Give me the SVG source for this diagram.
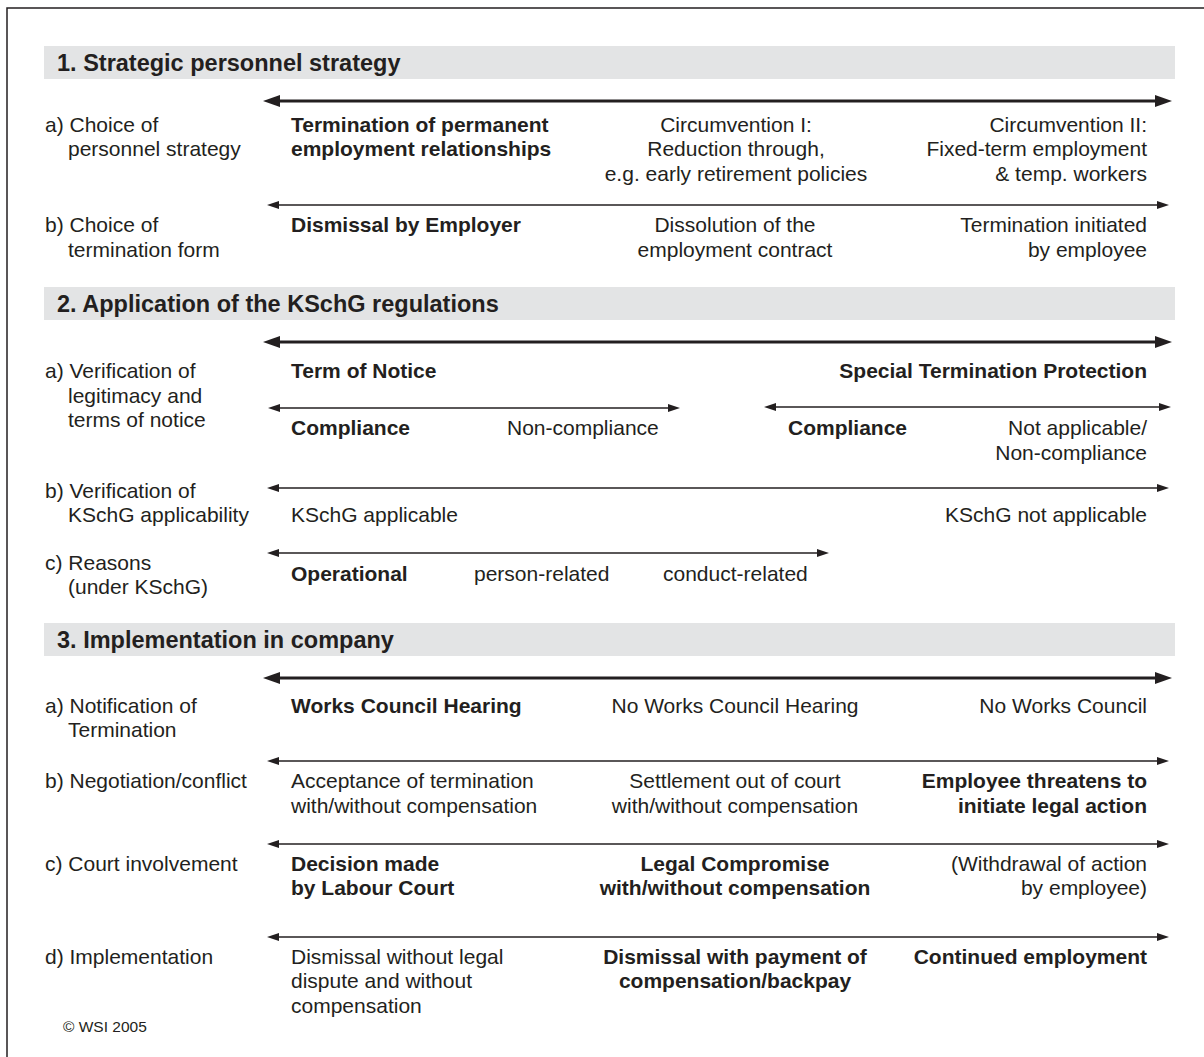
<svg xmlns="http://www.w3.org/2000/svg" width="1204" height="1057" viewBox="0 0 1204 1057">
<style>
text{font-family:"Liberation Sans",Arial,Helvetica,sans-serif;font-size:21px;fill:#231f20}
.h{font-size:23.5px;font-weight:bold}
.b{font-weight:bold}
.m{text-anchor:middle}
.r{text-anchor:end}
.c{font-size:15.5px}
.bar{fill:#e3e4e5}
.tk{stroke:#231f20;stroke-width:3;fill:none;marker-start:url(#at);marker-end:url(#at)}
.tn{stroke:#231f20;stroke-width:1.6;fill:none;marker-start:url(#an);marker-end:url(#an)}
</style>
<defs>
<marker id="at" markerUnits="userSpaceOnUse" markerWidth="18" markerHeight="12" refX="1" refY="6" orient="auto-start-reverse"><path d="M0,0 L17,6 L0,12 z" fill="#231f20"/></marker>
<marker id="an" markerUnits="userSpaceOnUse" markerWidth="13" markerHeight="8" refX="1" refY="4" orient="auto-start-reverse"><path d="M0,0 L12,4 L0,8 z" fill="#231f20"/></marker>
</defs>
<rect width="1204" height="1057" fill="#fff"/>
<path d="M7,1057 V8 H1204" stroke="#231f20" stroke-width="1.5" fill="none"/>

<g id="connectors">
<line class="tk" x1="279" y1="101" x2="1156" y2="101"/>
<line class="tn" x1="278" y1="205" x2="1158" y2="205"/>
<line class="tk" x1="279" y1="342" x2="1156" y2="342"/>
<line class="tn" x1="279" y1="408" x2="669" y2="408"/>
<line class="tn" x1="775" y1="407" x2="1160" y2="407"/>
<line class="tn" x1="278" y1="488" x2="1158" y2="488"/>
<line class="tn" x1="278" y1="553" x2="818" y2="553"/>
<line class="tk" x1="279" y1="678" x2="1156" y2="678"/>
<line class="tn" x1="278" y1="761" x2="1158" y2="761"/>
<line class="tn" x1="278" y1="844" x2="1158" y2="844"/>
<line class="tn" x1="278" y1="937" x2="1158" y2="937"/>
</g>

<g id="section1">
<rect class="bar" x="44" y="46" width="1131" height="33"/>
<text class="h" x="57" y="71">1. Strategic personnel strategy</text>
</g>
<g id="s1a">
<text x="45" y="132">a) Choice of</text>
<text x="68" y="156">personnel strategy</text>
<text class="b" x="291" y="132">Termination of permanent</text>
<text class="b" x="291" y="156">employment relationships</text>
<text class="m" x="736" y="132">Circumvention I:</text>
<text class="m" x="736" y="156">Reduction through,</text>
<text class="m" x="736" y="181">e.g. early retirement policies</text>
<text class="r" x="1147" y="132">Circumvention II:</text>
<text class="r" x="1147" y="156">Fixed-term employment</text>
<text class="r" x="1147" y="181">&amp; temp. workers</text>
</g>
<g id="s1b">
<text x="45" y="232">b) Choice of</text>
<text x="68" y="257">termination form</text>
<text class="b" x="291" y="232">Dismissal by Employer</text>
<text class="m" x="735" y="232">Dissolution of the</text>
<text class="m" x="735" y="257">employment contract</text>
<text class="r" x="1147" y="232">Termination initiated</text>
<text class="r" x="1147" y="257">by employee</text>
</g>

<g id="section2">
<rect class="bar" x="44" y="287" width="1131" height="33"/>
<text class="h" x="57" y="312">2. Application of the KSchG regulations</text>
</g>
<g id="s2a">
<text x="45" y="378">a) Verification of</text>
<text x="68" y="403">legitimacy and</text>
<text x="68" y="427">terms of notice</text>
<text class="b" x="291" y="378">Term of Notice</text>
<text class="b r" x="1147" y="378">Special Termination Protection</text>
<text class="b" x="291" y="435">Compliance</text>
<text x="507" y="435">Non-compliance</text>
<text class="b" x="788" y="435">Compliance</text>
<text class="r" x="1147" y="435">Not applicable/</text>
<text class="r" x="1147" y="460">Non-compliance</text>
</g>
<g id="s2b">
<text x="45" y="498">b) Verification of</text>
<text x="68" y="522">KSchG applicability</text>
<text x="291" y="522">KSchG applicable</text>
<text class="r" x="1147" y="522">KSchG not applicable</text>
</g>
<g id="s2c">
<text x="45" y="570">c) Reasons</text>
<text x="68" y="594">(under KSchG)</text>
<text class="b" x="291" y="581">Operational</text>
<text x="474" y="581">person-related</text>
<text x="663" y="581">conduct-related</text>
</g>

<g id="section3">
<rect class="bar" x="44" y="623" width="1131" height="33"/>
<text class="h" x="57" y="648">3. Implementation in company</text>
</g>
<g id="s3a">
<text x="45" y="713">a) Notification of</text>
<text x="68" y="737">Termination</text>
<text class="b" x="291" y="713">Works Council Hearing</text>
<text class="m" x="735" y="713">No Works Council Hearing</text>
<text class="r" x="1147" y="713">No Works Council</text>
</g>
<g id="s3b">
<text x="45" y="788">b) Negotiation/conflict</text>
<text x="291" y="788">Acceptance of termination</text>
<text x="291" y="813">with/without compensation</text>
<text class="m" x="735" y="788">Settlement out of court</text>
<text class="m" x="735" y="813">with/without compensation</text>
<text class="b r" x="1147" y="788">Employee threatens to</text>
<text class="b r" x="1147" y="813">initiate legal action</text>
</g>
<g id="s3c">
<text x="45" y="871">c) Court involvement</text>
<text class="b" x="291" y="871">Decision made</text>
<text class="b" x="291" y="895">by Labour Court</text>
<text class="b m" x="735" y="871">Legal Compromise</text>
<text class="b m" x="735" y="895">with/without compensation</text>
<text class="r" x="1147" y="871">(Withdrawal of action</text>
<text class="r" x="1147" y="895">by employee)</text>
</g>
<g id="s3d">
<text x="45" y="964">d) Implementation</text>
<text x="291" y="964">Dismissal without legal</text>
<text x="291" y="988">dispute and without</text>
<text x="291" y="1013">compensation</text>
<text class="b m" x="735" y="964">Dismissal with payment of</text>
<text class="b m" x="735" y="988">compensation/backpay</text>
<text class="b r" x="1147" y="964">Continued employment</text>
</g>
<g id="copyright">
<text class="c" x="63" y="1032">© WSI 2005</text>
</g>
</svg>
